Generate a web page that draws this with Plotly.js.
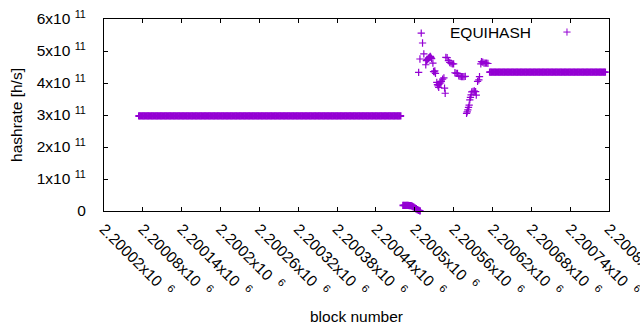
<!DOCTYPE html>
<html>
<head>
<meta charset="utf-8">
<script src="https://cdn.plot.ly/plotly-3.0.1.min.js"></script>
<style>html,body{margin:0;padding:0;background:#fff;}#chart{width:640px;height:330px;}</style>
</head>
<body>
<div id="chart"></div>
<script>
// Segment 1: long flat stretch
var flatBlocksA = [
2200074,2200076,2200078,2200080,2200082,2200084,2200086,2200088,2200090,2200092,
2200094,2200096,2200098,2200100,2200102,2200104,2200106,2200108,2200110,2200112,
2200114,2200116,2200118,2200120,2200122,2200124,2200126,2200128,2200130,2200132,
2200134,2200136,2200138,2200140,2200142,2200144,2200146,2200148,2200150,2200152,
2200154,2200156,2200158,2200160,2200162,2200164,2200166,2200168,2200170,2200172,
2200174,2200176,2200178,2200180,2200182,2200184,2200186,2200188,2200190,2200192,
2200194,2200196,2200198,2200200,2200202,2200204,2200206,2200208,2200210,2200212,
2200214,2200216,2200218,2200220,2200222,2200224,2200226,2200228,2200230,2200232,
2200234,2200236,2200238,2200240,2200242,2200244,2200246,2200248,2200250,2200252,
2200254,2200256,2200258,2200260,2200262,2200264,2200266,2200268,2200270,2200272,
2200274,2200276,2200278,2200280,2200282,2200284,2200286,2200288,2200290,2200292,
2200294,2200296,2200298,2200300,2200302,2200304,2200306,2200308,2200310,2200312,
2200314,2200316,2200318,2200320,2200322,2200324,2200326,2200328,2200330,2200332,
2200334,2200336,2200338,2200340,2200342,2200344,2200346,2200348,2200350,2200352,
2200354,2200356,2200358,2200360,2200362,2200364,2200366,2200368,2200370,2200372,
2200374,2200376,2200378,2200380,2200382,2200384,2200386,2200388,2200390,2200392,
2200394,2200396,2200398,2200400,2200402,2200404,2200406,2200408,2200410,2200412,
2200414,2200416,2200418,2200420,2200422,2200424,2200426,2200428,2200430,2200432,
2200434,2200436,2200438,2200440,2200442,2200444,2200446,2200448,2200450,2200452,
2200454,2200456,2200458,2200460,2200462,2200464,2200466,2200468,2200470,2200472,
2200474,2200476,2200478
];
var flatValuesA = [
2.97e11,2.97e11,2.97e11,2.97e11,2.97e11,2.97e11,2.97e11,2.97e11,2.97e11,2.97e11,
2.97e11,2.97e11,2.97e11,2.97e11,2.97e11,2.97e11,2.97e11,2.97e11,2.97e11,2.97e11,
2.97e11,2.97e11,2.97e11,2.97e11,2.97e11,2.97e11,2.97e11,2.97e11,2.97e11,2.97e11,
2.97e11,2.97e11,2.97e11,2.97e11,2.97e11,2.97e11,2.97e11,2.97e11,2.97e11,2.97e11,
2.97e11,2.97e11,2.97e11,2.97e11,2.97e11,2.97e11,2.97e11,2.97e11,2.97e11,2.97e11,
2.97e11,2.97e11,2.97e11,2.97e11,2.97e11,2.97e11,2.97e11,2.97e11,2.97e11,2.97e11,
2.97e11,2.97e11,2.97e11,2.97e11,2.97e11,2.97e11,2.97e11,2.97e11,2.97e11,2.97e11,
2.97e11,2.97e11,2.97e11,2.97e11,2.97e11,2.97e11,2.97e11,2.97e11,2.97e11,2.97e11,
2.97e11,2.97e11,2.97e11,2.97e11,2.97e11,2.97e11,2.97e11,2.97e11,2.97e11,2.97e11,
2.97e11,2.97e11,2.97e11,2.97e11,2.97e11,2.97e11,2.97e11,2.97e11,2.97e11,2.97e11,
2.97e11,2.97e11,2.97e11,2.97e11,2.97e11,2.97e11,2.97e11,2.97e11,2.97e11,2.97e11,
2.97e11,2.97e11,2.97e11,2.97e11,2.97e11,2.97e11,2.97e11,2.97e11,2.97e11,2.97e11,
2.97e11,2.97e11,2.97e11,2.97e11,2.97e11,2.97e11,2.97e11,2.97e11,2.97e11,2.97e11,
2.97e11,2.97e11,2.97e11,2.97e11,2.97e11,2.97e11,2.97e11,2.97e11,2.97e11,2.97e11,
2.97e11,2.97e11,2.97e11,2.97e11,2.97e11,2.97e11,2.97e11,2.97e11,2.97e11,2.97e11,
2.97e11,2.97e11,2.97e11,2.97e11,2.97e11,2.97e11,2.97e11,2.97e11,2.97e11,2.97e11,
2.97e11,2.97e11,2.97e11,2.97e11,2.97e11,2.97e11,2.97e11,2.97e11,2.97e11,2.97e11,
2.97e11,2.97e11,2.97e11,2.97e11,2.97e11,2.97e11,2.97e11,2.97e11,2.97e11,2.97e11,
2.97e11,2.97e11,2.97e11,2.97e11,2.97e11,2.97e11,2.97e11,2.97e11,2.97e11,2.97e11,
2.97e11,2.97e11,2.97e11,2.97e11,2.97e11,2.97e11,2.97e11,2.97e11,2.97e11,2.97e11,
2.97e11,2.97e11,2.97e11
];
// Segment 2: near-zero dip
var dropBlocks = [2200482,2200484,2200486,2200488,2200490,2200492,2200494,2200496,2200498,2200500,2200502,2200504,2200506,2200508];
var dropValues = [1.75e10,1.75e10,1.75e10,1.75e10,1.75e10,1.7e10,1.65e10,1.5e10,1.3e10,1.0e10,0.7e10,0.45e10,0.2e10,0.05e10];
// Segment 3: scattered transition
var scatterBlocks = [
2200506,2200508,2200510,2200512,2200514,2200517,2200518,2200519,2200520,2200521,
2200522,2200523,2200524,2200525,2200526,2200528,2200529,2200530,2200531,2200532,
2200534,2200535,2200536,2200537,2200538,2200540,2200541,2200543,2200545,2200546,
2200547,2200548,2200550,2200552,2200554,2200556,2200558,2200560,2200562,2200564,
2200566,2200568,2200570,2200572,2200574,2200576,2200578,2200580,2200581,2200582,
2200583,2200584,2200585,2200586,2200587,2200588,2200590,2200592,2200594,2200595,
2200597,2200599,2200600,2200602,2200603,2200605,2200607,2200609,2200611,2200613
];
var scatterValues = [
4.33e11,4.75e11,5.56e11,5.25e11,4.91e11,4.57e11,4.70e11,4.74e11,4.72e11,4.77e11,
4.79e11,4.81e11,4.83e11,4.80e11,4.76e11,4.62e11,4.36e11,4.35e11,4.38e11,4.30e11,
4.02e11,3.95e11,3.91e11,3.86e11,3.97e11,4.00e11,4.05e11,4.12e11,4.16e11,3.84e11,
3.68e11,4.80e11,4.79e11,4.70e11,4.64e11,4.62e11,4.60e11,4.60e11,4.32e11,4.30e11,
4.30e11,4.22e11,4.21e11,4.20e11,4.20e11,4.20e11,4.21e11,3.05e11,3.10e11,3.16e11,
3.24e11,3.31e11,3.47e11,3.55e11,3.63e11,3.72e11,3.74e11,3.75e11,3.73e11,3.62e11,
4.05e11,4.10e11,4.20e11,4.60e11,4.67e11,4.65e11,4.62e11,4.62e11,4.62e11,4.61e11
];
// Segment 4: final flat stretch
var flatBlocksD = [
2200616,2200618,2200620,2200622,2200624,2200626,2200628,2200630,2200632,2200634,
2200636,2200638,2200640,2200642,2200644,2200646,2200648,2200650,2200652,2200654,
2200656,2200658,2200660,2200662,2200664,2200666,2200668,2200670,2200672,2200674,
2200676,2200678,2200680,2200682,2200684,2200686,2200688,2200690,2200692,2200694,
2200696,2200698,2200700,2200702,2200704,2200706,2200708,2200710,2200712,2200714,
2200716,2200718,2200720,2200722,2200724,2200726,2200728,2200730,2200732,2200734,
2200736,2200738,2200740,2200742,2200744,2200746,2200748,2200750,2200752,2200754,
2200756,2200758,2200760,2200762,2200764,2200766,2200768,2200770,2200772,2200774,
2200776,2200778,2200780,2200782,2200784,2200786,2200788,2200790,2200792,2200794
];
var flatValuesD = [
4.34e11,4.34e11,4.34e11,4.34e11,4.34e11,4.34e11,4.34e11,4.34e11,4.34e11,4.34e11,
4.34e11,4.34e11,4.34e11,4.34e11,4.34e11,4.34e11,4.34e11,4.34e11,4.34e11,4.34e11,
4.34e11,4.34e11,4.34e11,4.34e11,4.34e11,4.34e11,4.34e11,4.34e11,4.34e11,4.34e11,
4.34e11,4.34e11,4.34e11,4.34e11,4.34e11,4.34e11,4.34e11,4.34e11,4.34e11,4.34e11,
4.34e11,4.34e11,4.34e11,4.34e11,4.34e11,4.34e11,4.34e11,4.34e11,4.34e11,4.34e11,
4.34e11,4.34e11,4.34e11,4.34e11,4.34e11,4.34e11,4.34e11,4.34e11,4.34e11,4.34e11,
4.34e11,4.34e11,4.34e11,4.34e11,4.34e11,4.34e11,4.34e11,4.34e11,4.34e11,4.34e11,
4.34e11,4.34e11,4.34e11,4.34e11,4.34e11,4.34e11,4.34e11,4.34e11,4.34e11,4.34e11,
4.34e11,4.34e11,4.34e11,4.34e11,4.34e11,4.34e11,4.34e11,4.34e11,4.34e11,4.34e11
];

var xTickVals = [2200020,2200080,2200140,2200200,2200260,2200320,2200380,2200440,2200500,2200560,2200620,2200680,2200740,2200800];
var xTickMantissa = ["2.20002","2.20008","2.20014","2.2002","2.20026","2.20032","2.20038","2.20044","2.2005","2.20056","2.20062","2.20068","2.20074","2.2008"];
var yTickVals = [0,1e11,2e11,3e11,4e11,5e11,6e11];
var yTickText = ["0","1x10 <sup>11</sup>","2x10 <sup>11</sup>","3x10 <sup>11</sup>","4x10 <sup>11</sup>","5x10 <sup>11</sup>","6x10 <sup>11</sup>"];
var seriesName = "EQUIHASH";
var seriesColor = "#9400D3";

var xTickText = xTickMantissa.map(function (m) { return m + "x10\u00A0\u00A0<sup>6</sup>"; });

var denseTrace = {
  x: flatBlocksA.concat(dropBlocks, flatBlocksD),
  y: flatValuesA.concat(dropValues, flatValuesD),
  type: 'scatter', mode: 'markers', name: seriesName,
  showlegend: false, cliponaxis: false,
  marker: {symbol: 'cross-thin-open', size: 5.2, color: seriesColor,
           line: {color: seriesColor, width: 1.9}}
};
var sparseTrace = {
  x: scatterBlocks, y: scatterValues,
  type: 'scatter', mode: 'markers', name: seriesName,
  showlegend: false, cliponaxis: false,
  marker: {symbol: 'cross-thin-open', size: 5.2, color: seriesColor,
           line: {color: seriesColor, width: 1.2}}
};

var axisCommon = {
  showgrid: false, zeroline: false, showline: true, linecolor: '#000', linewidth: 1,
  mirror: 'ticks', ticks: 'inside', ticklen: 4, tickcolor: '#000', tickwidth: 1,
  automargin: false, tickmode: 'array', ticklabeloverflow: 'allow'
};

var font = {family: '"Liberation Sans", Arial, sans-serif', size: 15.5, color: '#000'};

var layout = {
  width: 640, height: 330,
  margin: {l: 104, r: 31, t: 19, b: 119, pad: 0},
  paper_bgcolor: '#fff', plot_bgcolor: '#fff',
  font: font,
  showlegend: false,
  xaxis: Object.assign({}, axisCommon, {
    range: [2200020, 2200800], tickvals: xTickVals, ticktext: xTickText,
    tickangle: 45, ticklabelstandoff: 2,
    title: {text: 'block number', font: font, standoff: 12}
  }),
  yaxis: Object.assign({}, axisCommon, {
    range: [0, 6e11], tickvals: yTickVals, ticktext: yTickText,
    ticklabelstandoff: 14,
    title: {text: 'hashrate [h/s]', font: font, standoff: 10}
  }),
  annotations: [{
    xref: 'paper', yref: 'paper', x: 0.8495, y: 0.932, xanchor: 'right', yanchor: 'middle',
    text: seriesName, showarrow: false, font: font
  }],
  shapes: [
    {type: 'line', xref: 'paper', yref: 'paper', xsizemode: 'pixel', ysizemode: 'pixel',
     xanchor: 0.9168, yanchor: 0.932, x0: -3.6, x1: 3.6, y0: 0, y1: 0,
     line: {color: seriesColor, width: 1}},
    {type: 'line', xref: 'paper', yref: 'paper', xsizemode: 'pixel', ysizemode: 'pixel',
     xanchor: 0.9168, yanchor: 0.932, x0: 0, x1: 0, y0: -3.6, y1: 3.6,
     line: {color: seriesColor, width: 1}}
  ]
};

Plotly.newPlot('chart', [denseTrace, sparseTrace], layout, {displayModeBar: false, staticPlot: true});
</script>
</body>
</html>
